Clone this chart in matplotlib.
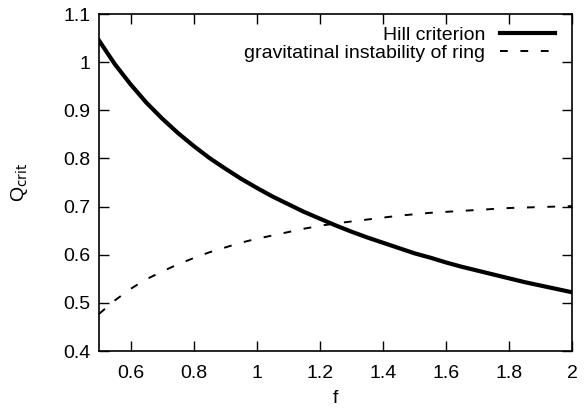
import matplotlib
matplotlib.use("Agg")
import matplotlib.pyplot as plt

# values
f_vals = [0.5, 0.55, 0.6, 0.65, 0.7, 0.75, 0.8, 0.85, 0.9, 0.95, 1.0, 1.05, 1.1, 1.15,
          1.2, 1.25, 1.3, 1.35, 1.4, 1.45, 1.5, 1.55, 1.6, 1.65, 1.7, 1.75, 1.8, 1.85,
          1.9, 1.95, 2.0]
hill = [1.045, 0.996, 0.954, 0.916, 0.883, 0.853, 0.826, 0.801, 0.779, 0.758, 0.739,
        0.721, 0.705, 0.689, 0.675, 0.661, 0.648, 0.636, 0.625, 0.614, 0.603, 0.594,
        0.584, 0.575, 0.567, 0.559, 0.551, 0.543, 0.536, 0.529, 0.522]
ring = [0.477, 0.505, 0.529, 0.549, 0.565, 0.580, 0.593, 0.605, 0.615, 0.625, 0.633,
        0.640, 0.647, 0.654, 0.660, 0.665, 0.669, 0.673, 0.677, 0.681, 0.684, 0.687,
        0.689, 0.691, 0.693, 0.695, 0.697, 0.698, 0.699, 0.700, 0.701]

x_ticks = [0.6, 0.8, 1.0, 1.2, 1.4, 1.6, 1.8, 2.0]
x_labels = ["0.6", "0.8", "1", "1.2", "1.4", "1.6", "1.8", "2"]
y_ticks = [0.4, 0.5, 0.6, 0.7, 0.8, 0.9, 1.0, 1.1]
y_labels = ["0.4", "0.5", "0.6", "0.7", "0.8", "0.9", "1", "1.1"]

plt.rcParams["font.family"] = ["Liberation Sans", "DejaVu Sans"]
plt.rcParams["font.size"] = 14

fig = plt.figure(figsize=(5.84, 4.08), dpi=100)
ax = fig.add_axes([99 / 584, 1 - 351 / 408, 473 / 584, 337 / 408])

ax.plot(f_vals, hill, color="black", linewidth=3, label="Hill criterion")
ax.plot(f_vals, ring, color="black", linewidth=1.4, linestyle=(0, (4, 6.5)),
        label="gravitatinal instability of ring")

ax.set_xlim(0.5, 2.0)
ax.set_ylim(0.4, 1.1)
ax.set_xticks(x_ticks)
ax.set_xticklabels(x_labels)
ax.set_yticks(y_ticks)
ax.set_yticklabels(y_labels)
ax.tick_params(direction="in", length=7, width=1, top=True, right=True, labelsize=14)
ax.tick_params(axis="x", pad=10)
ax.tick_params(axis="y", pad=6)
for s in ax.spines.values():
    s.set_linewidth(1.2)

ax.set_xlabel("f", labelpad=6)
ax.set_ylabel(r"Q$_{\mathrm{crit}}$", labelpad=24)

leg = ax.legend(loc="upper right", bbox_to_anchor=(1.0, 1.0 + 5 / 337),
                frameon=False, markerfirst=False,
                handlelength=2.8, handletextpad=0.75, borderaxespad=0.5,
                labelspacing=0.0, fontsize=14)

fig.savefig("out.png", dpi=100)
